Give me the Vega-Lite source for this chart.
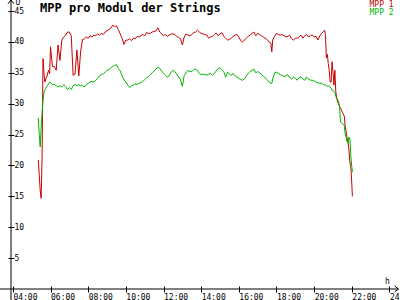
{
  "$schema": "https://vega.github.io/schema/vega-lite/v6.json",
  "width": 386,
  "height": 286,
  "autosize": {"type": "none"},
  "padding": {"left": 11, "top": 3, "right": 3, "bottom": 11},
  "background": "white",
  "config": {"view": {"stroke": null}, "font": "DejaVu Sans Mono",
    "axis": {"labelOverlap": false, "labelFlush": false, "labelBound": false, "domain": false, "grid": false, "labelFont": "DejaVu Sans Mono", "labelFontSize": 8, "labelColor": "black", "tickColor": "black", "titleFont": "DejaVu Sans Mono", "titleFontSize": 8, "titleFontWeight": "normal", "titleColor": "black"}},
  "layer": [
    {
      "data": {"values": [
        {"h":5.35,"MPP 1":20.9,"MPP 2":27.7},{"h":5.4,"MPP 1":18.5,"MPP 2":25.0},{"h":5.45,"MPP 1":16.0,"MPP 2":23.0},{"h":5.5,"MPP 1":14.7,"MPP 2":26.0},{"h":5.55,"MPP 1":21.0,"MPP 2":28.5},{"h":5.6,"MPP 1":37.3,"MPP 2":30.5},{"h":5.65,"MPP 1":35.0,"MPP 2":31.9},{"h":5.7,"MPP 1":33.5,"MPP 2":32.2},{"h":5.75,"MPP 1":34.0,"MPP 2":32.5},{"h":5.8,"MPP 1":34.3,"MPP 2":32.8},{"h":5.85,"MPP 1":35.0,"MPP 2":33.0},{"h":5.9,"MPP 1":35.4,"MPP 2":33.2},{"h":5.95,"MPP 1":34.8,"MPP 2":33.5},
        {"h":6.0,"MPP 1":39.2,"MPP 2":33.4},{"h":6.1,"MPP 1":36.0,"MPP 2":33.1},{"h":6.2,"MPP 1":36.0,"MPP 2":33.1},{"h":6.3,"MPP 1":35.4,"MPP 2":32.9},{"h":6.4,"MPP 1":39.5,"MPP 2":32.7},{"h":6.5,"MPP 1":37.0,"MPP 2":32.9},{"h":6.6,"MPP 1":40.3,"MPP 2":32.7},{"h":6.7,"MPP 1":40.8,"MPP 2":33.1},{"h":6.8,"MPP 1":41.1,"MPP 2":32.8},{"h":6.9,"MPP 1":41.6,"MPP 2":32.3},
        {"h":7.0,"MPP 1":41.6,"MPP 2":32.6},{"h":7.1,"MPP 1":41.0,"MPP 2":32.3},{"h":7.2,"MPP 1":34.6,"MPP 2":32.9},{"h":7.3,"MPP 1":34.8,"MPP 2":33.1},{"h":7.4,"MPP 1":38.7,"MPP 2":32.9},{"h":7.5,"MPP 1":34.5,"MPP 2":33.1},{"h":7.6,"MPP 1":38.5,"MPP 2":32.9},{"h":7.7,"MPP 1":40.4,"MPP 2":32.9},{"h":7.8,"MPP 1":40.5,"MPP 2":32.7},{"h":7.9,"MPP 1":40.8,"MPP 2":33.1},
        {"h":8.0,"MPP 1":40.6,"MPP 2":33.3},{"h":8.1,"MPP 1":41.0,"MPP 2":33.5},{"h":8.2,"MPP 1":40.8,"MPP 2":33.6},{"h":8.3,"MPP 1":41.1,"MPP 2":33.5},{"h":8.4,"MPP 1":41.0,"MPP 2":33.8},{"h":8.5,"MPP 1":41.3,"MPP 2":34.1},{"h":8.6,"MPP 1":41.1,"MPP 2":34.5},{"h":8.7,"MPP 1":41.4,"MPP 2":34.7},{"h":8.8,"MPP 1":41.2,"MPP 2":34.8},{"h":8.9,"MPP 1":41.6,"MPP 2":35.1},
        {"h":9.0,"MPP 1":41.8,"MPP 2":35.4},{"h":9.1,"MPP 1":42.0,"MPP 2":35.5},{"h":9.2,"MPP 1":42.2,"MPP 2":35.8},{"h":9.3,"MPP 1":42.7,"MPP 2":36.0},{"h":9.4,"MPP 1":42.5,"MPP 2":36.2},{"h":9.5,"MPP 1":42.6,"MPP 2":36.3},{"h":9.6,"MPP 1":42.0,"MPP 2":35.7},{"h":9.7,"MPP 1":41.3,"MPP 2":35.3},{"h":9.8,"MPP 1":40.6,"MPP 2":34.5},{"h":9.9,"MPP 1":39.6,"MPP 2":33.9},
        {"h":10.0,"MPP 1":40.3,"MPP 2":33.5},{"h":10.1,"MPP 1":40.3,"MPP 2":33.0},{"h":10.2,"MPP 1":40.5,"MPP 2":32.6},{"h":10.3,"MPP 1":40.2,"MPP 2":32.9},{"h":10.4,"MPP 1":40.6,"MPP 2":33.0},{"h":10.5,"MPP 1":40.5,"MPP 2":33.2},{"h":10.6,"MPP 1":40.9,"MPP 2":33.1},{"h":10.7,"MPP 1":40.8,"MPP 2":33.3},{"h":10.8,"MPP 1":41.0,"MPP 2":33.4},{"h":10.9,"MPP 1":41.2,"MPP 2":33.6},
        {"h":11.0,"MPP 1":41.0,"MPP 2":33.9},{"h":11.1,"MPP 1":41.5,"MPP 2":34.2},{"h":11.2,"MPP 1":41.4,"MPP 2":34.4},{"h":11.3,"MPP 1":41.4,"MPP 2":34.7},{"h":11.4,"MPP 1":41.6,"MPP 2":35.0},{"h":11.5,"MPP 1":41.7,"MPP 2":35.3},{"h":11.6,"MPP 1":41.8,"MPP 2":35.6},{"h":11.7,"MPP 1":42.3,"MPP 2":35.9},{"h":11.8,"MPP 1":41.6,"MPP 2":35.7},{"h":11.9,"MPP 1":41.3,"MPP 2":35.3},
        {"h":12.0,"MPP 1":41.0,"MPP 2":34.9},{"h":12.1,"MPP 1":41.2,"MPP 2":34.6},{"h":12.2,"MPP 1":40.9,"MPP 2":34.3},{"h":12.3,"MPP 1":41.1,"MPP 2":34.5},{"h":12.4,"MPP 1":41.3,"MPP 2":35.1},{"h":12.5,"MPP 1":41.3,"MPP 2":35.4},{"h":12.6,"MPP 1":41.2,"MPP 2":35.2},{"h":12.7,"MPP 1":40.9,"MPP 2":34.8},{"h":12.8,"MPP 1":40.7,"MPP 2":34.3},{"h":12.9,"MPP 1":40.5,"MPP 2":33.9},
        {"h":13.0,"MPP 1":39.5,"MPP 2":32.8},{"h":13.1,"MPP 1":40.8,"MPP 2":34.6},{"h":13.2,"MPP 1":41.3,"MPP 2":35.0},{"h":13.3,"MPP 1":41.1,"MPP 2":35.4},{"h":13.4,"MPP 1":41.0,"MPP 2":35.2},{"h":13.5,"MPP 1":41.2,"MPP 2":35.2},{"h":13.6,"MPP 1":41.5,"MPP 2":35.5},{"h":13.7,"MPP 1":41.6,"MPP 2":35.6},{"h":13.8,"MPP 1":41.9,"MPP 2":35.4},{"h":13.9,"MPP 1":41.6,"MPP 2":34.9},
        {"h":14.0,"MPP 1":41.4,"MPP 2":34.7},{"h":14.1,"MPP 1":41.3,"MPP 2":34.8},{"h":14.2,"MPP 1":41.2,"MPP 2":34.7},{"h":14.3,"MPP 1":41.1,"MPP 2":34.6},{"h":14.4,"MPP 1":40.6,"MPP 2":34.8},{"h":14.5,"MPP 1":40.8,"MPP 2":34.9},{"h":14.6,"MPP 1":40.9,"MPP 2":34.6},{"h":14.7,"MPP 1":41.2,"MPP 2":34.9},{"h":14.8,"MPP 1":41.4,"MPP 2":35.3},{"h":14.9,"MPP 1":41.0,"MPP 2":35.7},
        {"h":15.0,"MPP 1":41.3,"MPP 2":35.8},{"h":15.1,"MPP 1":41.5,"MPP 2":35.5},{"h":15.2,"MPP 1":40.9,"MPP 2":35.2},{"h":15.3,"MPP 1":40.6,"MPP 2":34.3},{"h":15.4,"MPP 1":40.3,"MPP 2":35.1},{"h":15.5,"MPP 1":40.4,"MPP 2":34.8},{"h":15.6,"MPP 1":40.6,"MPP 2":34.6},{"h":15.7,"MPP 1":40.9,"MPP 2":34.9},{"h":15.8,"MPP 1":41.1,"MPP 2":34.5},{"h":15.9,"MPP 1":41.2,"MPP 2":34.3},
        {"h":16.0,"MPP 1":40.8,"MPP 2":34.1},{"h":16.1,"MPP 1":40.2,"MPP 2":33.9},{"h":16.2,"MPP 1":40.0,"MPP 2":33.8},{"h":16.3,"MPP 1":40.3,"MPP 2":34.0},{"h":16.4,"MPP 1":40.6,"MPP 2":34.5},{"h":16.5,"MPP 1":40.9,"MPP 2":34.9},{"h":16.6,"MPP 1":41.1,"MPP 2":35.2},{"h":16.7,"MPP 1":41.4,"MPP 2":35.4},{"h":16.8,"MPP 1":41.6,"MPP 2":35.6},{"h":16.9,"MPP 1":41.0,"MPP 2":35.0},
        {"h":17.0,"MPP 1":41.4,"MPP 2":35.2},{"h":17.1,"MPP 1":41.2,"MPP 2":35.0},{"h":17.2,"MPP 1":41.0,"MPP 2":34.8},{"h":17.3,"MPP 1":40.8,"MPP 2":34.4},{"h":17.4,"MPP 1":40.6,"MPP 2":34.2},{"h":17.5,"MPP 1":40.4,"MPP 2":33.9},{"h":17.6,"MPP 1":40.0,"MPP 2":33.5},{"h":17.7,"MPP 1":39.8,"MPP 2":33.3},{"h":17.75,"MPP 1":38.4,"MPP 2":33.3},{"h":17.8,"MPP 1":40.3,"MPP 2":34.0},{"h":17.9,"MPP 1":40.9,"MPP 2":35.0},
        {"h":18.0,"MPP 1":41.4,"MPP 2":35.1},{"h":18.1,"MPP 1":41.2,"MPP 2":34.9},{"h":18.2,"MPP 1":41.1,"MPP 2":34.7},{"h":18.3,"MPP 1":41.2,"MPP 2":34.6},{"h":18.4,"MPP 1":41.0,"MPP 2":34.4},{"h":18.5,"MPP 1":40.8,"MPP 2":34.5},{"h":18.6,"MPP 1":40.9,"MPP 2":34.7},{"h":18.7,"MPP 1":41.1,"MPP 2":34.2},{"h":18.8,"MPP 1":40.5,"MPP 2":34.0},{"h":18.9,"MPP 1":40.3,"MPP 2":34.3},
        {"h":19.0,"MPP 1":40.6,"MPP 2":34.1},{"h":19.1,"MPP 1":40.6,"MPP 2":33.8},{"h":19.2,"MPP 1":40.8,"MPP 2":34.2},{"h":19.3,"MPP 1":41.1,"MPP 2":34.3},{"h":19.4,"MPP 1":40.6,"MPP 2":34.0},{"h":19.5,"MPP 1":41.0,"MPP 2":33.8},{"h":19.6,"MPP 1":41.2,"MPP 2":34.3},{"h":19.7,"MPP 1":40.8,"MPP 2":34.0},{"h":19.8,"MPP 1":41.0,"MPP 2":33.8},{"h":19.9,"MPP 1":41.1,"MPP 2":33.8},
        {"h":20.0,"MPP 1":40.8,"MPP 2":33.7},{"h":20.1,"MPP 1":40.9,"MPP 2":33.5},{"h":20.2,"MPP 1":40.3,"MPP 2":33.4},{"h":20.3,"MPP 1":41.0,"MPP 2":33.3},{"h":20.4,"MPP 1":41.4,"MPP 2":33.3},{"h":20.5,"MPP 1":41.7,"MPP 2":33.1},{"h":20.55,"MPP 1":41.9,"MPP 2":33.0},{"h":20.6,"MPP 1":41.2,"MPP 2":33.1},{"h":20.65,"MPP 1":37.4,"MPP 2":32.9},{"h":20.7,"MPP 1":38.0,"MPP 2":32.8},{"h":20.75,"MPP 1":36.5,"MPP 2":32.9},{"h":20.8,"MPP 1":35.4,"MPP 2":32.8},{"h":20.85,"MPP 1":33.5,"MPP 2":32.7},{"h":20.9,"MPP 1":33.5,"MPP 2":32.5},{"h":20.95,"MPP 1":36.8,"MPP 2":32.2},
        {"h":21.0,"MPP 1":35.2,"MPP 2":32.1},{"h":21.05,"MPP 1":33.0,"MPP 2":32.0},{"h":21.1,"MPP 1":35.4,"MPP 2":31.8},{"h":21.15,"MPP 1":31.9,"MPP 2":31.2},{"h":21.2,"MPP 1":30.9,"MPP 2":30.8},{"h":21.25,"MPP 1":30.6,"MPP 2":30.1},{"h":21.3,"MPP 1":30.2,"MPP 2":30.0},{"h":21.35,"MPP 1":29.5,"MPP 2":29.5},{"h":21.4,"MPP 1":29.3,"MPP 2":27.0},{"h":21.45,"MPP 1":29.0,"MPP 2":26.9},{"h":21.5,"MPP 1":28.6,"MPP 2":26.8},{"h":21.55,"MPP 1":28.3,"MPP 2":26.7},{"h":21.6,"MPP 1":28.0,"MPP 2":26.5},{"h":21.65,"MPP 1":26.3,"MPP 2":25.0},{"h":21.7,"MPP 1":25.4,"MPP 2":24.6},{"h":21.75,"MPP 1":24.4,"MPP 2":23.8},{"h":21.8,"MPP 1":23.8,"MPP 2":23.6},{"h":21.85,"MPP 1":22.4,"MPP 2":24.6},{"h":21.9,"MPP 1":20.4,"MPP 2":24.2},{"h":21.95,"MPP 1":19.8,"MPP 2":21.5},{"h":22.0,"MPP 1":17.0,"MPP 2":19.8},{"h":22.03,"MPP 1":15.0,"MPP 2":18.9}
      ]},
      "transform": [{"fold": ["MPP 1", "MPP 2"], "as": ["series", "value"]}],
      "mark": {"type": "line", "strokeWidth": 1},
      "encoding": {
        "x": {"field": "h", "type": "quantitative",
          "scale": {"domain": [3.9, 24.4], "nice": false, "zero": false},
          "axis": {"values": [4, 6, 8, 10, 12, 14, 16, 18, 20, 22, 24], "tickCount": 40,
            "labelExpr": "(datum.value < 10 ? '0' : '') + datum.value + ':00'",
            "offset": -3, "tickSize": 6,
            "labelAlign": "left", "labelDx": -1, "labelBaseline": "top", "labelPadding": 1,
            "title": "h", "titleX": 376, "titleY": -3, "titleAlign": "center", "titleBaseline": "alphabetic"}},
        "y": {"field": "value", "type": "quantitative",
          "scale": {"domain": [0, 46.3], "nice": false},
          "axis": {"values": [5, 10, 15, 20, 25, 30, 35, 40, 45], "tickCount": 40,
            "offset": -3, "tickSize": 6,
            "labelAlign": "left", "labelBaseline": "middle", "labelPadding": -6,
            "title": "U", "titleAngle": 0, "titleX": 1, "titleY": 1, "titleAlign": "left", "titleBaseline": "alphabetic"}},
        "color": {"field": "series", "type": "nominal",
          "scale": {"domain": ["MPP 1", "MPP 2"], "range": ["#c80000", "#00b400"]},
          "legend": null},
        "order": {"field": "h", "type": "quantitative"}
      }
    },
    {
      "data": {"values": [{}]},
      "mark": {"type": "rule", "color": "black", "strokeWidth": 1},
      "encoding": {"x": {"datum": 3.316}, "x2": {"datum": 24.48}, "y": {"datum": 0}}
    },
    {
      "data": {"values": [{}]},
      "mark": {"type": "rule", "color": "black", "strokeWidth": 1},
      "encoding": {"x": {"datum": 3.9}, "y": {"datum": -1.8}, "y2": {"datum": 46.8}}
    },
    {
      "data": {"values": [{}]},
      "mark": {"type": "point", "shape": "M-1,1.3L0,0L1,1.3", "size": 36, "filled": false, "stroke": "black", "strokeWidth": 1, "opacity": 1},
      "encoding": {"x": {"datum": 3.9}, "y": {"datum": 46.8}}
    },
    {
      "data": {"values": [{}]},
      "mark": {"type": "point", "shape": "M-1.3,-1L0,0L-1.3,1", "size": 36, "filled": false, "stroke": "black", "strokeWidth": 1, "opacity": 1},
      "encoding": {"x": {"datum": 24.48}, "y": {"datum": 0}}
    },
    {
      "data": {"values": [{}]},
      "mark": {"type": "text", "align": "left", "baseline": "alphabetic", "font": "DejaVu Sans Mono", "fontSize": 12, "fontWeight": "bold", "color": "black"},
      "encoding": {"x": {"datum": 5.44}, "y": {"datum": 44.84}, "text": {"value": "MPP pro Modul der Strings"}}
    },
    {
      "data": {"values": [{}]},
      "mark": {"type": "text", "align": "right", "baseline": "alphabetic", "font": "DejaVu Sans Mono", "fontSize": 8},
      "encoding": {"x": {"datum": 24.22}, "y": {"datum": 45.58}, "text": {"value": "MPP 1"}, "color": {"datum": "MPP 1", "legend": null}}
    },
    {
      "data": {"values": [{}]},
      "mark": {"type": "text", "align": "right", "baseline": "alphabetic", "font": "DejaVu Sans Mono", "fontSize": 8},
      "encoding": {"x": {"datum": 24.22}, "y": {"datum": 44.34}, "text": {"value": "MPP 2"}, "color": {"datum": "MPP 2", "legend": null}}
    }
  ]
}
